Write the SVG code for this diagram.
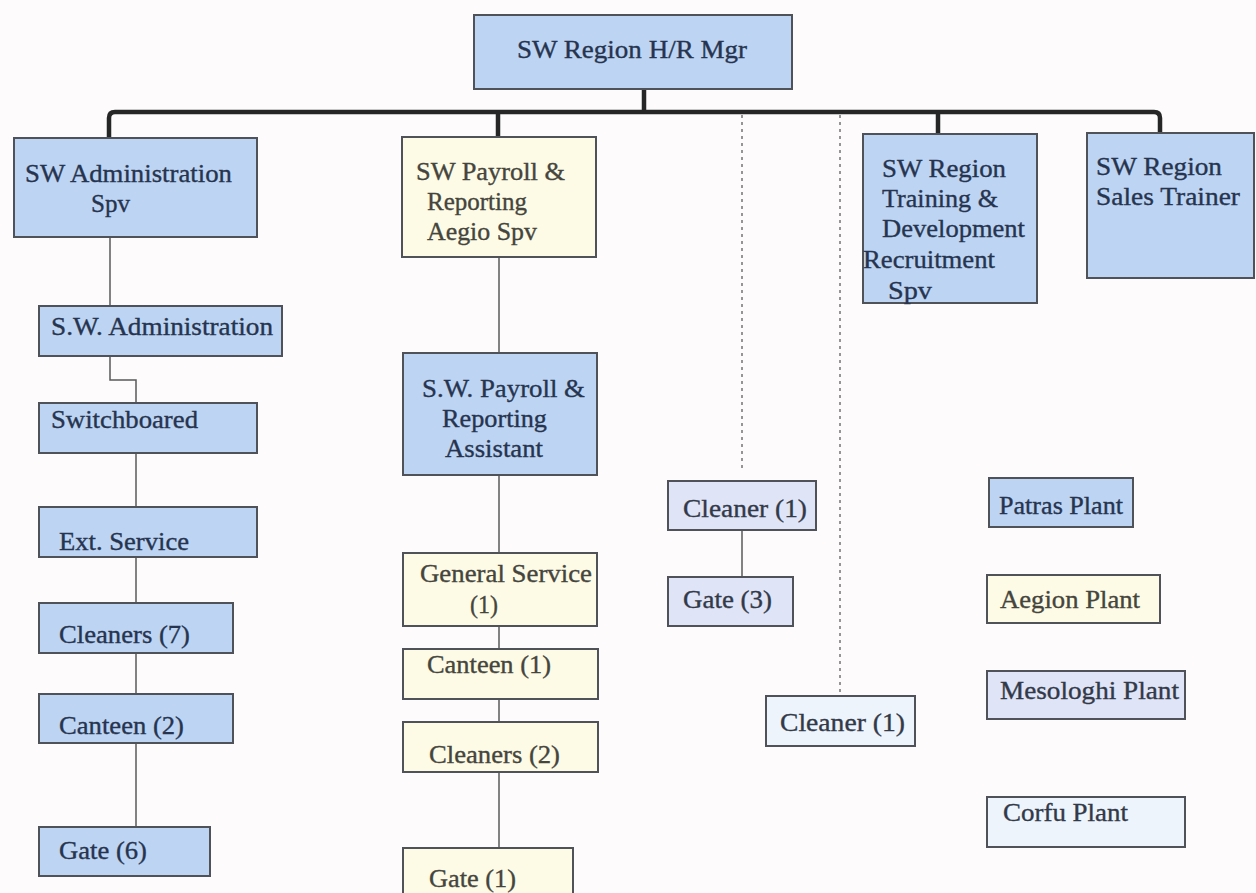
<svg xmlns="http://www.w3.org/2000/svg" width="1256" height="893" viewBox="0 0 1256 893">
  <style>
    .box { stroke: #4f5258; stroke-width: 2; }
    .blue { fill: #bdd4f3; }
    .cream { fill: #fdfbe5; }
    .lav { fill: #dfe4f6; }
    .pale { fill: #edf4fb; }
    text { font-family: "Liberation Serif", "Times New Roman", serif; font-size: 26px; stroke-width: 0.35; }
    .tb { fill: #26344f; stroke: #26344f; }
    .tc { fill: #45453d; stroke: #45453d; }
    .tl { fill: #323949; stroke: #323949; }
    .bus { fill: none; stroke: #262626; stroke-width: 4.5; stroke-linejoin: round; }
    .link { fill: none; stroke: #5a5a5a; stroke-width: 1.5; }
    .dot { fill: none; stroke: #8a8a8a; stroke-width: 1.8; stroke-dasharray: 3 4; }
  </style>

  <rect width="1256" height="893" fill="#fdfbfc"/>

  <!-- connectors -->
  <g id="connectors">
    <path class="bus" d="M644,89 V112"/>
    <path class="bus" d="M109,138 V118 Q109,112 115,112 H1154 Q1160,112 1160,118 V133"/>
    <path class="bus" d="M498,112 V137"/>
    <path class="bus" d="M938,112 V134"/>
    <path class="dot" d="M742,115 V470"/>
    <path class="dot" d="M840,115 V696"/>
    <path class="link" d="M110,237 V306"/>
    <path class="link" d="M110,356 V380 H136 V403"/>
    <path class="link" d="M136,453 V507"/>
    <path class="link" d="M136,557 V603"/>
    <path class="link" d="M136,653 V694"/>
    <path class="link" d="M136,743 V827"/>
    <path class="link" d="M499,257 V353"/>
    <path class="link" d="M499,475 V553"/>
    <path class="link" d="M499,626 V649"/>
    <path class="link" d="M499,699 V722"/>
    <path class="link" d="M499,772 V848"/>
    <path class="link" d="M742,530 V577"/>
  </g>

  <!-- top manager -->
  <g id="hr-mgr">
    <rect class="box blue" x="474" y="15" width="318" height="74"/>
    <text class="tb" x="517" y="58" textLength="230" lengthAdjust="spacingAndGlyphs">SW Region H/R Mgr</text>
  </g>

  <!-- administration column -->
  <g id="admin-spv">
    <rect class="box blue" x="14" y="138" width="243" height="99"/>
    <text class="tb" x="25" y="182" textLength="207" lengthAdjust="spacingAndGlyphs">SW Administration</text>
    <text class="tb" x="91" y="212" textLength="39" lengthAdjust="spacingAndGlyphs">Spv</text>
  </g>
  <g id="sw-admin">
    <rect class="box blue" x="39" y="306" width="243" height="50"/>
    <text class="tb" x="51" y="335" textLength="222" lengthAdjust="spacingAndGlyphs">S.W. Administration</text>
  </g>
  <g id="switchboard">
    <rect class="box blue" x="39" y="403" width="218" height="50"/>
    <text class="tb" x="51" y="428" textLength="147" lengthAdjust="spacingAndGlyphs">Switchboared</text>
  </g>
  <g id="ext-service">
    <rect class="box blue" x="39" y="507" width="218" height="50"/>
    <text class="tb" x="59" y="550" textLength="130" lengthAdjust="spacingAndGlyphs">Ext. Service</text>
  </g>
  <g id="cleaners-7">
    <rect class="box blue" x="39" y="603" width="194" height="50"/>
    <text class="tb" x="59" y="643" textLength="131" lengthAdjust="spacingAndGlyphs">Cleaners (7)</text>
  </g>
  <g id="canteen-2">
    <rect class="box blue" x="39" y="694" width="194" height="49"/>
    <text class="tb" x="59" y="734" textLength="125" lengthAdjust="spacingAndGlyphs">Canteen (2)</text>
  </g>
  <g id="gate-6">
    <rect class="box blue" x="39" y="827" width="171" height="49"/>
    <text class="tb" x="59" y="859" textLength="88" lengthAdjust="spacingAndGlyphs">Gate (6)</text>
  </g>

  <!-- payroll column -->
  <g id="payroll-spv">
    <rect class="box cream" x="402" y="137" width="194" height="120"/>
    <text class="tc" x="416" y="180" textLength="149" lengthAdjust="spacingAndGlyphs">SW Payroll &amp;</text>
    <text class="tc" x="427" y="210" textLength="100" lengthAdjust="spacingAndGlyphs">Reporting</text>
    <text class="tc" x="427" y="240" textLength="110" lengthAdjust="spacingAndGlyphs">Aegio Spv</text>
  </g>
  <g id="payroll-assistant">
    <rect class="box blue" x="403" y="353" width="194" height="122"/>
    <text class="tb" x="422" y="397" textLength="163" lengthAdjust="spacingAndGlyphs">S.W. Payroll &amp;</text>
    <text class="tb" x="442" y="427" textLength="105" lengthAdjust="spacingAndGlyphs">Reporting</text>
    <text class="tb" x="445" y="457" textLength="98" lengthAdjust="spacingAndGlyphs">Assistant</text>
  </g>
  <g id="general-service">
    <rect class="box cream" x="403" y="553" width="194" height="73"/>
    <text class="tc" x="420" y="582" textLength="172" lengthAdjust="spacingAndGlyphs">General Service</text>
    <text class="tc" x="470" y="613" textLength="28" lengthAdjust="spacingAndGlyphs">(1)</text>
  </g>
  <g id="canteen-1">
    <rect class="box cream" x="403" y="649" width="195" height="50"/>
    <text class="tc" x="427" y="673" textLength="124" lengthAdjust="spacingAndGlyphs">Canteen (1)</text>
  </g>
  <g id="cleaners-2">
    <rect class="box cream" x="403" y="722" width="195" height="50"/>
    <text class="tc" x="429" y="763" textLength="131" lengthAdjust="spacingAndGlyphs">Cleaners (2)</text>
  </g>
  <g id="gate-1">
    <rect class="box cream" x="403" y="848" width="170" height="60"/>
    <text class="tc" x="429" y="887" textLength="87" lengthAdjust="spacingAndGlyphs">Gate (1)</text>
  </g>

  <!-- dotted branches -->
  <g id="cleaner-a">
    <rect class="box lav" x="668" y="481" width="148" height="49"/>
    <text class="tl" x="683" y="517" textLength="124" lengthAdjust="spacingAndGlyphs">Cleaner (1)</text>
  </g>
  <g id="gate-3">
    <rect class="box lav" x="668" y="577" width="125" height="49"/>
    <text class="tl" x="683" y="608" textLength="89" lengthAdjust="spacingAndGlyphs">Gate (3)</text>
  </g>
  <g id="cleaner-b">
    <rect class="box pale" x="766" y="696" width="149" height="50"/>
    <text class="tl" x="780" y="731" textLength="125" lengthAdjust="spacingAndGlyphs">Cleaner (1)</text>
  </g>

  <!-- training and sales -->
  <g id="training-spv">
    <rect class="box blue" x="863" y="134" width="174" height="169"/>
    <text class="tb" x="882" y="177" textLength="124" lengthAdjust="spacingAndGlyphs">SW Region</text>
    <text class="tb" x="882" y="207" textLength="116" lengthAdjust="spacingAndGlyphs">Training &amp;</text>
    <text class="tb" x="882" y="237" textLength="143" lengthAdjust="spacingAndGlyphs">Development</text>
    <text class="tb" x="863" y="268" textLength="132" lengthAdjust="spacingAndGlyphs">Recruitment</text>
    <text class="tb" x="888" y="299" textLength="44" lengthAdjust="spacingAndGlyphs">Spv</text>
  </g>
  <g id="sales-trainer">
    <rect class="box blue" x="1087" y="133" width="167" height="145"/>
    <text class="tb" x="1096" y="175" textLength="126" lengthAdjust="spacingAndGlyphs">SW Region</text>
    <text class="tb" x="1096" y="205" textLength="144" lengthAdjust="spacingAndGlyphs">Sales Trainer</text>
  </g>

  <!-- plant legend -->
  <g id="patras">
    <rect class="box blue" x="989" y="478" width="144" height="49"/>
    <text class="tb" x="999" y="514" textLength="124" lengthAdjust="spacingAndGlyphs">Patras Plant</text>
  </g>
  <g id="aegion">
    <rect class="box cream" x="987" y="575" width="173" height="48"/>
    <text class="tc" x="1000" y="608" textLength="140" lengthAdjust="spacingAndGlyphs">Aegion Plant</text>
  </g>
  <g id="mesologhi">
    <rect class="box lav" x="987" y="671" width="198" height="48"/>
    <text class="tl" x="1000" y="699" textLength="179" lengthAdjust="spacingAndGlyphs">Mesologhi Plant</text>
  </g>
  <g id="corfu">
    <rect class="box pale" x="987" y="797" width="198" height="50"/>
    <text class="tl" x="1003" y="821" textLength="125" lengthAdjust="spacingAndGlyphs">Corfu Plant</text>
  </g>
</svg>
